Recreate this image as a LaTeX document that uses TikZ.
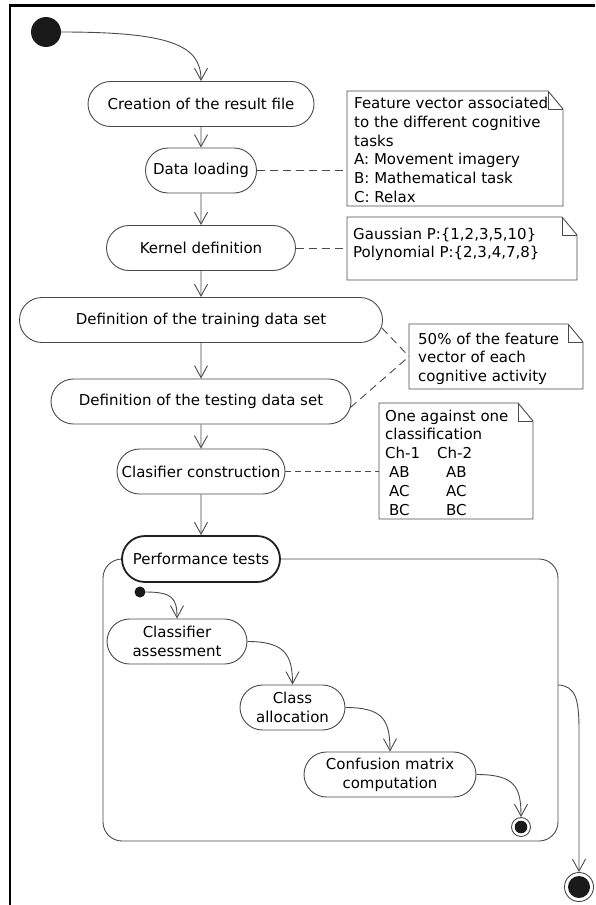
\documentclass[tikz,border=0pt]{standalone}
\usepackage{fontspec}
\setmainfont{DejaVu Sans}
\usetikzlibrary{shapes.misc,arrows.meta}
\definecolor{ln}{HTML}{4A4A4A}
\definecolor{dotc}{HTML}{1A1A1A}
\newcommand\drawnote[1]{%
  \draw[ln, line width=0.9pt] (#1.north west) -- ([xshift=-15pt]#1.north east) -- ([yshift=-18pt]#1.north east) -- (#1.south east) -- (#1.south west) -- cycle;
  \draw[ln, line width=0.9pt] ([xshift=-15pt]#1.north east) -- ([xshift=-15pt,yshift=-18pt]#1.north east) -- ([yshift=-18pt]#1.north east);}
\begin{document}
\begin{tikzpicture}[x=1pt,y=-1pt,
  act/.style={rounded rectangle, draw=ln, line width=0.9pt, fill=white, minimum height=45pt, inner sep=0pt, align=center, font=\fontsize{15}{19}\selectfont},
  arr/.style={draw=ln, line width=0.9pt, -{Straight Barb[length=12pt,width=13pt,line width=0.9pt]}},
  dsh/.style={draw=ln, line width=0.9pt, dash pattern=on 8pt off 5pt},
  dshf/.style={draw=ln, line width=0.9pt, dash pattern=on 6pt off 4pt},
  notebox/.style={inner sep=0pt, outer sep=0pt},
  notetxt/.style={anchor=north west, inner sep=0pt, align=left, font=\fontsize{15}{18.8}\selectfont}
]
\useasboundingbox (0,0) rectangle (595,905);
% frame
\draw[line width=2.2pt] (10,905) -- (10,5.5) -- (595,5.5);

% start
\node[circle, fill=dotc, minimum size=30pt, inner sep=0pt] (start) at (46,32) {};

% activities
\node[act, minimum width=226pt] (create) at (201,104) {Creation of the result file};
\node[act, minimum width=111pt] (load) at (201,170.5) {Data loading};
\node[act, minimum width=189pt] (kern) at (201,248) {Kernel definition};
\node[act, minimum width=363pt] (train) at (201,320) {Definition of the training data set};
\node[act, minimum width=300pt] (test) at (201,401.5) {Definition of the testing data set};
\node[act, minimum width=168pt] (clas) at (201,471.5) {Clasifier construction};

% container
\node[draw=ln, line width=0.9pt, rounded corners=19pt, minimum width=455pt, minimum height=282pt, inner sep=0pt] (cont) at (330.5,700) {};
\node[act, draw=black!88, line width=1.8pt, minimum width=158pt, minimum height=46pt] (perf) at (201,559) {Performance tests};

\node[circle, fill=dotc, minimum size=11pt, inner sep=0pt] (istart) at (140,592) {};
\node[act, minimum width=140pt] (assess) at (177,641.5) {Classifier\\assessment};
\node[act, minimum width=105pt] (alloc) at (292.5,707.5) {Class\\allocation};
\node[act, minimum width=172pt] (conf) at (390,774.5) {Confusion matrix\\computation};
\node[circle, draw=ln, line width=0.9pt, fill=white, minimum size=19pt, inner sep=0pt] (iend) at (521,827) {};
\fill[dotc] (iend.center) circle (6.3pt);

\node[circle, draw=ln, line width=0.9pt, fill=white, minimum size=29pt, inner sep=0pt] (fend) at (579,887) {};
\fill[dotc] (fend.center) circle (11pt);

% notes
\node[notebox, minimum width=216pt, minimum height=115pt] (n1) at (455,148.5) {};
\node[notebox, minimum width=230pt, minimum height=63pt] (n2) at (462,248.5) {};
\node[notebox, minimum width=174pt, minimum height=65pt] (n3) at (496,356.5) {};
\node[notebox, minimum width=154pt, minimum height=116pt] (n4) at (456,461) {};
\drawnote{n1}
\drawnote{n2}
\drawnote{n3}
\drawnote{n4}
\node[notetxt] (t1) at (354,97) {Feature vector associated\\to the different cognitive\\tasks\\A: Movement imagery\\B: Mathematical task\\C: Relax};
\node[notetxt] (t2) at (353,227.5) {Gaussian P:\{1,2,3,5,10\}\\Polynomial P:\{2,3,4,7,8\}};
\node[notetxt] (t3) at (418,332.5) {50\% of the feature\\vector of each\\cognitive activity};
\node[notetxt] (t4) at (385,409.5) {One against one\\classification\\\makebox[52pt][l]{Ch-1}Ch-2\\\hspace*{4pt}\makebox[57pt][l]{AB}AB\\\hspace*{4pt}\makebox[57pt][l]{AC}AC\\\hspace*{4pt}\makebox[57pt][l]{BC}BC};

% arrows
\draw[arr] (start.east) .. controls (170,32) and (201,45) .. (create.north);
\draw[arr] (create) -- (load);
\draw[arr] (load) -- (kern);
\draw[arr] (kern) -- (train);
\draw[arr] (train) -- (test);
\draw[arr] (test) -- (clas);
\draw[arr] (clas) -- (perf);
\draw[arr] (istart.east) .. controls (172,592) and (177,598) .. (assess.north);
\draw[arr] (assess.east) .. controls (285,641.5) and (292.5,655) .. (alloc.north);
\draw[arr] (alloc.east) .. controls (383,707.5) and (390,720) .. (conf.north);
\draw[arr] (conf.east) .. controls (515,774.5) and (521,787) .. (iend.north);
\draw[arr] ([yshift=15pt]cont.east) .. controls (576,686) and (579,700) .. (579,730) -- (fend.north);

% note links
\draw[dsh] (load.east) -- (load.east -| n1.west);
\draw[dsh] (kern.east) -- (kern.east -| n2.west);
\draw[dsh] ([xshift=-1pt,yshift=-8pt]train.east) -- (n3.west);
\draw[dsh] ([xshift=-1pt,yshift=-6pt]test.east) -- (n3.west);
\draw[dshf] (clas.east) -- (clas.east -| n4.west);
\end{tikzpicture}
\end{document}
